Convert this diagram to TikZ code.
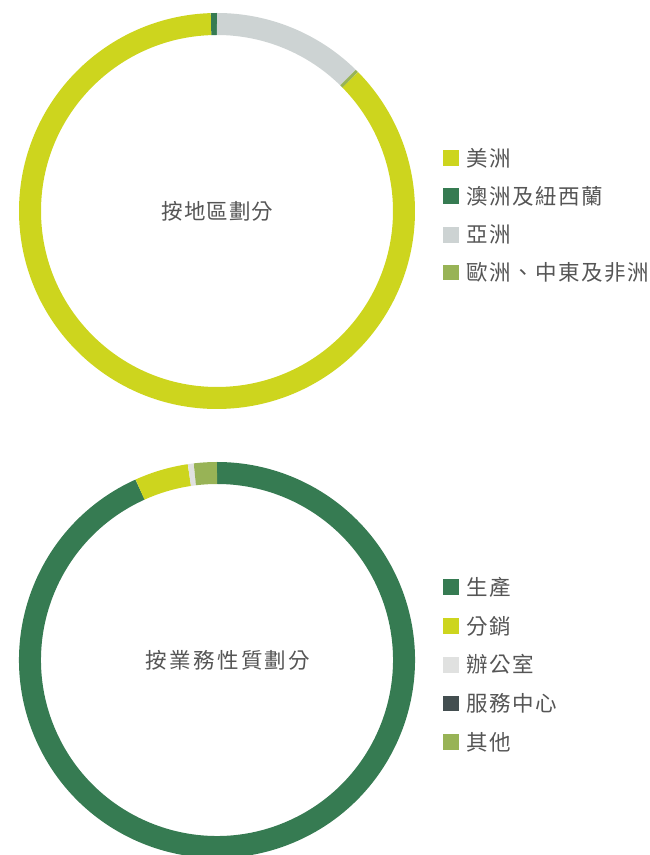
\documentclass[tikz,border=0pt]{standalone}
\usepackage{fontspec}
\newfontfamily\cjk[LetterSpace=7]{Noto Sans CJK TC}
\newfontfamily\cjkwide[LetterSpace=11]{Noto Sans CJK TC}
\newfontfamily\cjkmid[LetterSpace=5]{Noto Sans CJK TC}
\definecolor{cyel}{HTML}{CDD51E}
\definecolor{cgrn}{HTML}{367B52}
\definecolor{cgry}{HTML}{CDD3D3}
\definecolor{colv}{HTML}{98B356}
\definecolor{coff}{HTML}{E0E1E0}
\definecolor{csvc}{HTML}{434E50}
\definecolor{ctxt}{HTML}{555555}
\tikzset{
  seg/.style={line width=22pt},
  legsq/.style={fill=#1, minimum size=15.7pt, inner sep=0pt, draw=none},
  legtx/.style={anchor=west, inner sep=0pt, text=ctxt, font=\cjk\fontsize{21.5pt}{24pt}\selectfont},
  ctr/.style={inner sep=0pt, text=ctxt, font=\cjkmid\fontsize{21.5pt}{24pt}\selectfont},
  ctrw/.style={inner sep=0pt, text=ctxt, font=\cjkwide\fontsize{21.5pt}{24pt}\selectfont}
}
\newcommand{\ringseg}[4]{% center name, start, end, color
  \draw[seg, #4] ([shift={(#2:187pt)}]#1) arc[start angle=#2, end angle=#3, radius=187pt];}
\begin{document}
\begin{tikzpicture}[x=1pt,y=1pt]
\useasboundingbox (0,0) rectangle (650,855);
\clip (0,0) rectangle (650,855);
% top donut
\coordinate (ta) at (217,644);
\ringseg{ta}{91.8}{404.6}{cyel}
\ringseg{ta}{90}{91.8}{cgrn}
\ringseg{ta}{45.5}{90}{cgry}
\ringseg{ta}{44.6}{45.5}{colv}
\node[ctr] (tlabel) at (217.5,643.5) {按地區劃分};
% top legend
\node[legsq=cyel] (s1) at (451.2,697) {};
\node[legtx] (l1) at (466,697) {美洲};
\node[legsq=cgrn] (s2) at (451.2,658.8) {};
\node[legtx] (l2) at (466,658.8) {澳洲及紐西蘭};
\node[legsq=cgry] (s3) at (451.2,620.3) {};
\node[legtx] (l3) at (466,620.3) {亞洲};
\node[legsq=colv] (s4) at (451.2,582.5) {};
\node[legtx] (l4) at (466,582.5) {歐洲、中東及非洲};
% bottom donut
\coordinate (ba) at (217,195);
\ringseg{ba}{114.3}{450}{cgrn}
\ringseg{ba}{98.5}{114.3}{cyel}
\ringseg{ba}{96.8}{98.5}{coff}
\ringseg{ba}{90}{96.8}{colv}
\node[ctrw] (blabel) at (228,194.5) {按業務性質劃分};
% bottom legend
\node[legsq=cgrn] (b1) at (451.2,268) {};
\node[legtx] (m1) at (466,268) {生產};
\node[legsq=cyel] (b2) at (451.2,229) {};
\node[legtx] (m2) at (466,229) {分銷};
\node[legsq=coff] (b3) at (451.2,190.3) {};
\node[legtx] (m3) at (466,190.3) {辦公室};
\node[legsq=csvc] (b4) at (451.2,151.6) {};
\node[legtx] (m4) at (466,151.6) {服務中心};
\node[legsq=colv] (b5) at (451.2,113) {};
\node[legtx] (m5) at (466,113) {其他};
\end{tikzpicture}
\end{document}
